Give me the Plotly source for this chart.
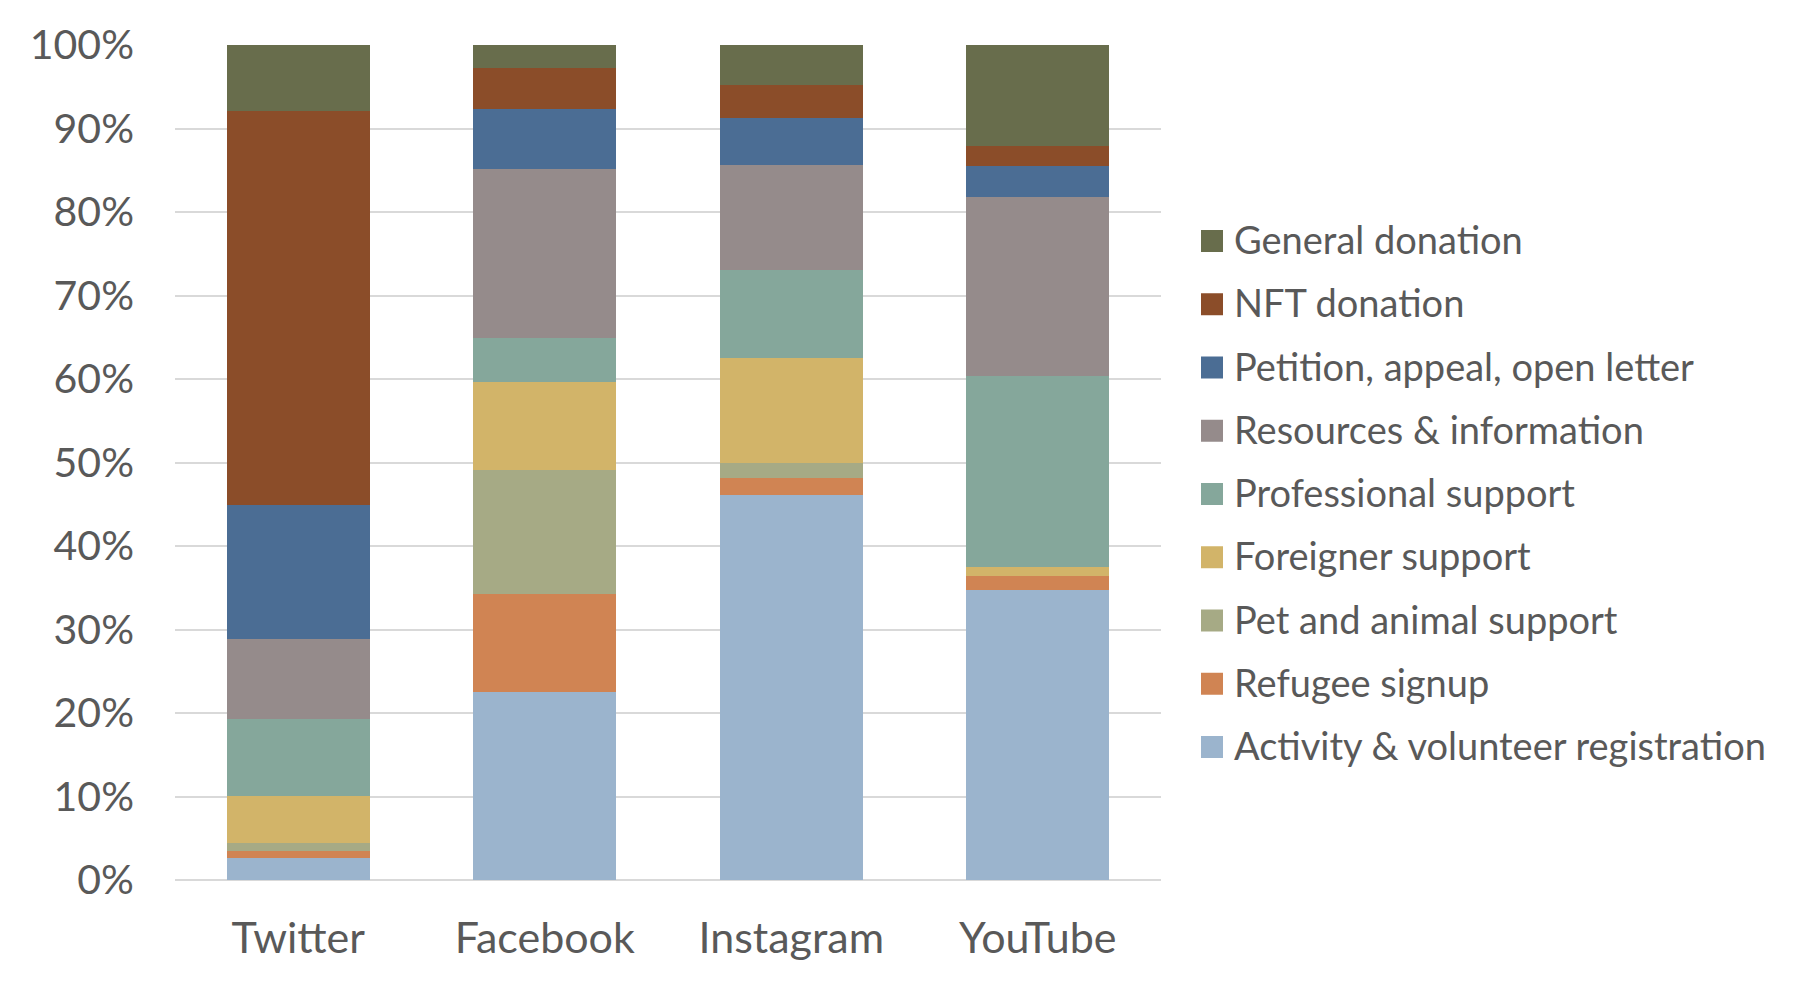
import plotly.graph_objects as go

# platforms on the x axis
platforms = ["Twitter", "Facebook", "Instagram", "YouTube"]

# categories, stacked bottom -> top (share of posts, %)
activity = [2.6, 22.5, 46.1, 34.7]
refugee = [0.9, 11.7, 2.0, 1.7]
pet = [0.9, 14.9, 1.9, 0.0]
foreigner = [5.7, 10.5, 12.5, 1.1]
professional = [9.2, 5.3, 10.5, 22.9]
resources = [9.6, 20.2, 12.6, 21.4]
petition = [16.0, 7.2, 5.7, 3.7]
nft = [47.2, 4.9, 3.9, 2.4]
general = [7.9, 2.8, 4.8, 12.1]

series_names = [
    "Activity & volunteer registration",
    "Refugee signup",
    "Pet and animal support",
    "Foreigner support",
    "Professional support",
    "Resources & information",
    "Petition, appeal, open letter",
    "NFT donation",
    "General donation",
]
series_values = [activity, refugee, pet, foreigner, professional,
                 resources, petition, nft, general]
colors = ["#9BB4CD", "#D08453", "#A6AA85", "#D2B469", "#85A79B",
          "#958B8B", "#4B6D94", "#8B4D29", "#686D4C"]

yticks = [0, 10, 20, 30, 40, 50, 60, 70, 80, 90, 100]
ytick_labels = [f"{v}%" for v in yticks]

W, H = 1798, 984
L, R, T, B = 167, 645, 37, 112
FONT = "Lato, 'Open Sans', sans-serif"
GREY = "#595959"

fig = go.Figure()
for name, vals, col in zip(series_names, series_values, colors):
    fig.add_trace(go.Bar(name=name, x=platforms, y=vals,
                         marker=dict(color=col, line=dict(width=0)),
                         showlegend=False))

# hand-made legend (bigger swatches than plotly's own), top item first
pw, ph = W - L - R, H - T - B
OX, OY = 8, 7   # page offset of the drawing


def px_x(x):
    return (x - OX - L) / pw


def px_y(y):
    return (H - B - (y - OY)) / ph


for i, (name, col) in enumerate(reversed(list(zip(series_names, colors)))):
    cy = 240 + 63.25 * i
    fig.add_shape(type="rect", xref="paper", yref="paper",
                  x0=px_x(1201), x1=px_x(1223),
                  y0=px_y(cy + 11), y1=px_y(cy - 11),
                  fillcolor=col, line=dict(width=0))
    fig.add_annotation(xref="paper", yref="paper", x=px_x(1232), y=px_y(cy),
                       xanchor="left", yanchor="middle", showarrow=False,
                       text=name, font=dict(family=FONT, size=38, color=GREY),
                       yshift=2)

fig.update_layout(
    barmode="stack",
    bargap=0.42,
    width=W, height=H,
    margin=dict(l=L, r=R, t=T, b=B),
    plot_bgcolor="white",
    paper_bgcolor="white",
    font=dict(family=FONT, color=GREY),
)
fig.update_xaxes(tickfont=dict(size=43, color=GREY), showline=False,
                 showgrid=False, ticks="", ticklabelstandoff=29)
fig.update_yaxes(range=[0, 100], tickvals=yticks, ticktext=ytick_labels,
                 tickfont=dict(size=41, color=GREY),
                 showgrid=True, gridcolor="#D9D9D9", gridwidth=2,
                 zeroline=True, zerolinecolor="#D9D9D9", zerolinewidth=2,
                 showline=False, ticks="", ticklabelstandoff=40)

fig.write_html("out.html")
